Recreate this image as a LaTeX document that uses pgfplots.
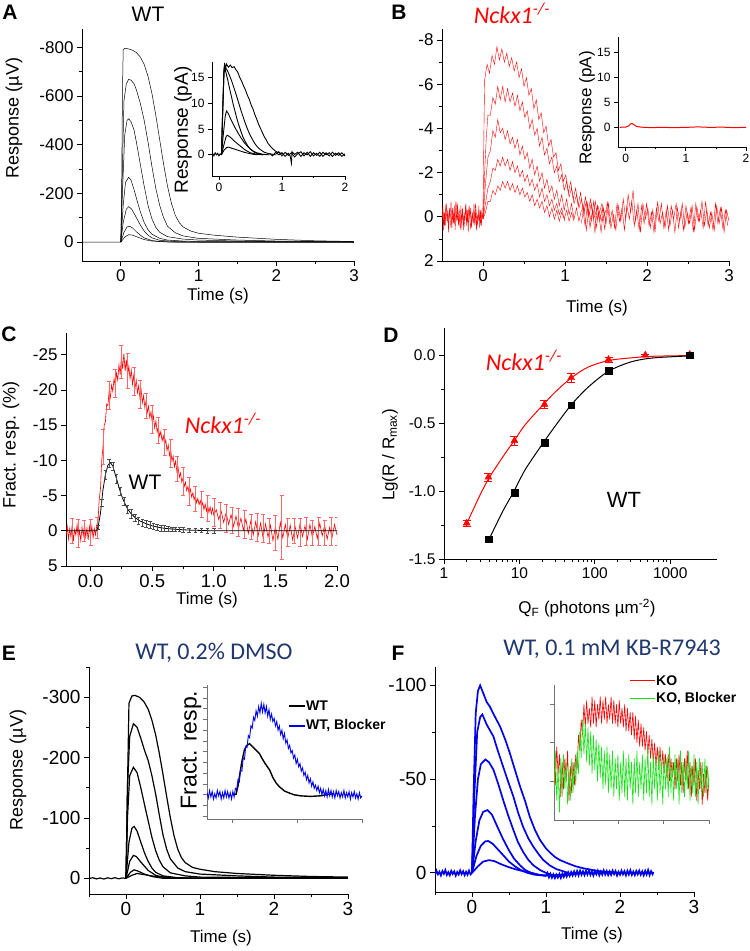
\documentclass[border=0pt]{standalone}
\usepackage{pgfplots}
\pgfplotsset{compat=1.18}
\usepackage{fontspec}
\setmainfont{Liberation Sans}
\newfontfamily\calfont{Carlito}
\definecolor{navy}{RGB}{32,56,110}
\definecolor{kored}{RGB}{255,0,0}
\definecolor{kogreen}{RGB}{20,230,20}
\definecolor{wtblue}{RGB}{0,0,235}
\newcommand{\fs}[1]{\fontsize{#1}{#1}\selectfont}
\pgfplotsset{
 pan/.style={scale only axis, anchor=south west, axis x line=bottom, axis y line=left,
   axis line style={line width=0.8pt,-}, tick align=outside,
   tick style={line width=0.8pt, black}, major tick length=5pt, minor tick length=3pt,
   /pgf/number format/assume math mode=true, tick label style={font=\fs{17}}},
 ins/.style={pan, tick label style={font=\fs{12}}, major tick length=4pt, minor tick length=2.5pt},
}
\begin{document}
\begin{tikzpicture}
\useasboundingbox (0pt,0pt) rectangle (750pt,951pt);
% ================= A =================
\begin{axis}[pan, at={(82pt,690pt)}, width=272pt, height=232pt, xmin=-0.5, xmax=3, ymin=-875, ymax=78, y dir=reverse,
  xtick={0,1,2,3}, minor xtick={0.5,1.5,2.5}, ytick={-800,-600,-400,-200,0}, minor ytick={-700,-500,-300,-100}]
\addplot[black, line width=0.5pt] coordinates {(-0.5,0)(0,0)(0.01,-200)(0.02,-600)(0.03,-790)(0.05,-796)(0.1,-793)(0.15,-788)(0.2,-778)(0.25,-760)(0.3,-730)(0.35,-680)(0.4,-610)(0.45,-520)(0.5,-420)(0.55,-320)(0.6,-230)(0.65,-160)(0.7,-110)(0.75,-80)(0.8,-62)(0.9,-45)(1.0,-36)(1.2,-28)(1.5,-20)(2.0,-11)(2.5,-5)(3.0,-2)};
\addplot[black, line width=0.5pt] coordinates {(0,0)(0.02,-300)(0.04,-580)(0.07,-650)(0.1,-668)(0.13,-665)(0.17,-650)(0.2,-625)(0.25,-570)(0.3,-500)(0.35,-410)(0.4,-310)(0.45,-220)(0.5,-150)(0.55,-100)(0.6,-65)(0.7,-38)(0.8,-25)(1.0,-15)(1.5,-8)(2,-4)(3,-1)};
\addplot[black, line width=0.5pt] coordinates {(0,0)(0.02,-200)(0.05,-440)(0.08,-500)(0.1,-506)(0.13,-495)(0.17,-460)(0.2,-410)(0.25,-320)(0.3,-230)(0.35,-150)(0.4,-95)(0.45,-60)(0.5,-40)(0.6,-22)(0.8,-12)(1.0,-8)(1.5,-4)(2,-2)(3,0)};
\addplot[black, line width=0.5pt] coordinates {(0,0)(0.03,-150)(0.06,-245)(0.1,-266)(0.13,-255)(0.17,-215)(0.2,-180)(0.25,-125)(0.3,-80)(0.35,-50)(0.4,-32)(0.5,-15)(0.6,-8)(0.8,-4)(1,-2)(3,0)};
\addplot[black, line width=0.5pt] coordinates {(0,0)(0.03,-80)(0.07,-135)(0.1,-145)(0.14,-135)(0.2,-100)(0.25,-70)(0.3,-45)(0.35,-28)(0.4,-17)(0.5,-7)(0.7,-2)(1,0)(3,0)};
\addplot[black, line width=0.5pt] coordinates {(0,0)(0.04,-40)(0.08,-62)(0.11,-65)(0.15,-58)(0.2,-42)(0.25,-28)(0.3,-17)(0.4,-6)(0.5,-2)(0.7,0)(3,0)};
\addplot[black, line width=0.5pt] coordinates {(0,0)(0.05,-20)(0.1,-30)(0.14,-29)(0.2,-22)(0.3,-10)(0.4,-4)(0.6,0)(3,0)};
\end{axis}
% A inset
\begin{axis}[ins, at={(212pt,775pt)}, width=133pt, height=114pt, xmin=-0.11, xmax=2, ymin=-4.1, ymax=18,
  xtick={0,1,2}, minor xtick={0.5,1.5}, ytick={0,5,10,15}]
\addplot[black, line width=0.9pt] coordinates {(-0.1,0.3)(-0.08,-0.2)(-0.06,0.4)(-0.04,0)(-0.02,0.3)(0,-0.2)(0.02,0.2)(0.04,0)};
\addplot[black, line width=0.9pt] coordinates {(0.04,0)(0.06,8)(0.08,16)(0.09,17.8)(0.1,16.5)(0.12,17.6)(0.15,17.0)(0.18,17.4)(0.21,16.9)(0.24,17.1)(0.27,16.5)(0.3,16.0)(0.33,15.0)(0.36,14.3)(0.39,13.4)(0.42,12.6)(0.45,11.6)(0.48,10.8)(0.51,9.7)(0.54,8.9)(0.57,7.8)(0.6,6.9)(0.63,5.9)(0.66,5.1)(0.69,4.3)(0.72,3.5)(0.75,2.9)(0.78,2.2)(0.82,1.6)(0.86,1.1)(0.9,0.7)(0.95,0.4)(1.0,0.3)};
\addplot[black, line width=0.9pt] coordinates {(0.04,0)(0.06,9)(0.08,16.5)(0.09,17.5)(0.11,16.8)(0.14,16.2)(0.17,15.3)(0.2,14.4)(0.23,13.3)(0.26,12.2)(0.29,11.0)(0.32,9.8)(0.35,8.6)(0.38,7.5)(0.41,6.4)(0.44,5.4)(0.47,4.5)(0.5,3.7)(0.54,2.8)(0.58,2.0)(0.62,1.4)(0.67,0.9)(0.72,0.5)(0.8,0.2)(0.9,0)};
\addplot[black, line width=0.9pt] coordinates {(0.04,0)(0.06,9)(0.08,16)(0.09,17.2)(0.11,16.0)(0.14,14.5)(0.17,12.8)(0.2,11.2)(0.23,9.6)(0.26,8.2)(0.29,6.8)(0.32,5.6)(0.35,4.5)(0.38,3.5)(0.42,2.5)(0.46,1.7)(0.5,1.1)(0.55,0.6)(0.6,0.3)(0.7,0)};
\addplot[black, line width=0.9pt] coordinates {(0.04,0)(0.07,4)(0.1,7.5)(0.12,8.5)(0.14,8.2)(0.17,7.4)(0.2,6.6)(0.25,5.4)(0.3,4.3)(0.35,3.3)(0.4,2.4)(0.45,1.7)(0.5,1.1)(0.55,0.7)(0.6,0.4)(0.7,0.1)(0.8,0)};
\addplot[black, line width=0.9pt] coordinates {(0.04,0)(0.08,2)(0.11,3.4)(0.13,3.8)(0.16,3.6)(0.2,3.2)(0.25,2.6)(0.3,2.1)(0.35,1.6)(0.4,1.1)(0.45,0.7)(0.5,0.4)(0.6,0.1)(0.7,0)};
\addplot[black, line width=0.9pt] coordinates {(0.04,0)(0.08,0.9)(0.12,1.4)(0.15,1.5)(0.2,1.3)(0.3,0.9)(0.4,0.5)(0.5,0.2)(0.6,0)};
\addplot[black, line width=0.9pt] coordinates {(0.8,0.3)(0.85,-0.2)(0.9,0.5)(0.95,0.0)(1.0,0.4)(1.05,-0.3)(1.1,0.3)(1.13,-0.2)(1.15,-1.6)(1.16,0.6)(1.2,0.1)(1.25,0.5)(1.3,-0.3)(1.35,0.4)(1.4,0.0)(1.45,0.6)(1.5,-0.2)(1.55,0.3)(1.6,-0.3)(1.65,0.5)(1.7,0.0)(1.75,0.4)(1.8,-0.3)(1.85,0.3)(1.9,-0.1)(1.95,0.4)(2.0,-0.2)};
\addplot[black, line width=0.9pt] coordinates {(0.9,0.1)(0.95,0.6)(1.0,-0.2)(1.05,0.5)(1.1,-0.1)(1.15,0.4)(1.2,-0.4)(1.25,0.2)(1.3,0.6)(1.35,-0.2)(1.4,0.5)(1.45,-0.3)(1.5,0.4)(1.55,-0.1)(1.6,0.5)(1.65,-0.3)(1.7,0.4)(1.75,-0.2)(1.8,0.5)(1.85,-0.1)(1.9,0.4)(1.95,-0.3)(2.0,0.2)};
\end{axis}
% ================= B =================
\begin{axis}[pan, at={(442pt,690pt)}, width=287pt, height=232pt, xmin=-0.5, xmax=3, ymin=-8.5, ymax=2, y dir=reverse,
  xtick={0,1,2,3}, minor xtick={0.5,1.5,2.5}, ytick={-8,-6,-4,-2,0,2}, minor ytick={-7,-5,-3,-1,1}]
\addplot[kored, line width=0.4pt] coordinates {(-0.50,0.3)(-0.49,-0.5)(-0.48,0.6)(-0.47,-0.2)(-0.46,0.4)(-0.45,-0.6)(-0.44,0.2)(-0.43,-0.3)(-0.42,0.7)(-0.41,-0.4)(-0.40,0.1)(-0.39,-0.7)(-0.38,0.5)(-0.37,-0.2)(-0.36,0.3)(-0.35,-0.5)(-0.34,0.6)(-0.33,-0.3)(-0.32,0.2)(-0.31,-0.6)(-0.30,0.4)(-0.29,-0.1)(-0.28,0.5)(-0.27,-0.5)(-0.26,0.3)(-0.25,-0.4)(-0.24,0.6)(-0.23,-0.2)(-0.22,0.2)(-0.21,-0.6)(-0.20,0.4)(-0.19,-0.3)(-0.18,0.7)(-0.17,-0.5)(-0.16,0.1)(-0.15,-0.4)(-0.14,0.5)(-0.13,-0.2)(-0.12,0.3)(-0.11,-0.6)(-0.10,0.4)(-0.09,-0.3)(-0.08,0.6)(-0.07,-0.1)(-0.06,0.2)(-0.05,-0.5)(-0.04,0.5)(-0.03,-0.3)(-0.02,0.4)(-0.01,-0.2)(0.00,0.1)};
\addplot[kored, line width=0.4pt] coordinates {(-0.49,-0.3)(-0.47,0.4)(-0.45,-0.6)(-0.43,0.2)(-0.41,-0.2)(-0.39,0.5)(-0.37,-0.4)(-0.35,0.3)(-0.33,-0.7)(-0.31,0.1)(-0.29,-0.3)(-0.27,0.6)(-0.25,-0.2)(-0.23,0.4)(-0.21,-0.5)(-0.19,0.2)(-0.17,-0.4)(-0.15,0.5)(-0.13,-0.1)(-0.11,0.3)(-0.09,-0.6)(-0.07,0.4)(-0.05,-0.2)(-0.03,0.3)(-0.01,-0.4)};
\addplot[kored, line width=0.4pt] coordinates {(0,0)(0.01,-3.5)(0.02,-6.2)(0.05,-6.9)(0.08,-6.5)(0.11,-7.3)(0.14,-6.9)(0.17,-7.7)(0.20,-7.1)(0.23,-7.6)(0.26,-7.0)(0.29,-7.4)(0.32,-6.8)(0.35,-7.2)(0.38,-6.6)(0.41,-7.0)(0.44,-6.3)(0.47,-6.7)(0.50,-5.9)(0.53,-6.3)(0.56,-5.5)(0.59,-5.8)(0.62,-4.9)(0.65,-5.3)(0.68,-4.4)(0.71,-4.7)(0.74,-3.8)(0.77,-4.1)(0.80,-3.2)(0.83,-3.5)(0.86,-2.7)(0.89,-2.9)(0.92,-2.1)(0.95,-2.4)(0.98,-1.6)(1.01,-1.9)(1.04,-1.1)(1.07,-1.6)(1.10,-0.8)(1.13,-1.3)(1.16,-0.5)(1.19,-1.1)(1.22,-0.3)(1.25,-0.9)(1.28,-0.1)(1.31,-0.8)(1.34,0.0)(1.37,-0.7)(1.40,0.1)(1.45,-0.6)(1.50,0.2)};
\addplot[kored, line width=0.4pt] coordinates {(0,0.1)(0.02,-2.0)(0.04,-3.6)(0.06,-4.6)(0.09,-4.6)(0.12,-5.4)(0.15,-5.1)(0.18,-5.9)(0.21,-5.3)(0.24,-5.9)(0.27,-5.2)(0.30,-5.8)(0.33,-5.2)(0.36,-5.6)(0.39,-5.0)(0.42,-5.5)(0.45,-4.8)(0.48,-5.2)(0.51,-4.5)(0.54,-4.8)(0.57,-4.0)(0.60,-4.4)(0.63,-3.7)(0.66,-4.0)(0.69,-3.2)(0.72,-3.6)(0.75,-2.8)(0.78,-3.1)(0.81,-2.4)(0.84,-2.7)(0.87,-2.0)(0.90,-2.3)(0.93,-1.6)(0.96,-1.9)(0.99,-1.2)(1.02,-1.6)(1.05,-0.9)(1.08,-1.3)(1.11,-0.6)(1.14,-1.0)(1.17,-0.4)(1.20,-0.8)(1.23,-0.2)(1.26,-0.7)(1.29,0.0)(1.32,-0.6)(1.35,0.1)(1.40,-0.5)(1.45,0.2)(1.50,-0.3)};
\addplot[kored, line width=0.4pt] coordinates {(0,0.1)(0.03,-1.5)(0.06,-2.7)(0.09,-3.0)(0.12,-3.9)(0.15,-3.6)(0.18,-4.4)(0.21,-3.8)(0.24,-4.0)(0.27,-3.5)(0.30,-3.9)(0.33,-3.3)(0.36,-3.6)(0.39,-3.1)(0.42,-3.5)(0.45,-2.8)(0.48,-3.2)(0.51,-2.6)(0.54,-2.9)(0.57,-2.2)(0.60,-2.6)(0.63,-1.9)(0.66,-2.3)(0.69,-1.6)(0.72,-2.0)(0.75,-1.3)(0.78,-1.7)(0.81,-1.1)(0.84,-1.4)(0.87,-0.8)(0.90,-1.2)(0.93,-0.5)(0.96,-1.0)(0.99,-0.3)(1.02,-0.8)(1.05,-0.1)(1.08,-0.6)(1.11,0.1)(1.14,-0.4)(1.17,0.2)(1.20,-0.3)};
\addplot[kored, line width=0.4pt] coordinates {(0,0.1)(0.03,-0.6)(0.06,-1.3)(0.09,-1.6)(0.12,-2.2)(0.15,-2.1)(0.18,-2.6)(0.21,-2.3)(0.24,-2.7)(0.27,-2.3)(0.30,-2.6)(0.33,-2.1)(0.36,-2.5)(0.39,-2.0)(0.42,-2.3)(0.45,-1.8)(0.48,-2.1)(0.51,-1.6)(0.54,-1.9)(0.57,-1.4)(0.60,-1.7)(0.63,-1.2)(0.66,-1.5)(0.69,-0.9)(0.72,-1.3)(0.75,-0.7)(0.78,-1.0)(0.81,-0.5)(0.84,-0.8)(0.87,-0.3)(0.90,-0.6)(0.93,-0.1)(0.96,-0.4)(0.99,0.1)(1.02,-0.3)(1.05,0.2)(1.08,-0.2)(1.11,0.2)};
\addplot[kored, line width=0.4pt] coordinates {(0,0.1)(0.03,-0.2)(0.06,-0.7)(0.09,-0.7)(0.12,-1.2)(0.15,-1.0)(0.18,-1.4)(0.21,-1.2)(0.24,-1.6)(0.27,-1.3)(0.30,-1.6)(0.33,-1.2)(0.36,-1.5)(0.39,-1.1)(0.42,-1.4)(0.45,-1.0)(0.48,-1.3)(0.51,-0.9)(0.54,-1.1)(0.57,-0.7)(0.60,-1.0)(0.63,-0.5)(0.66,-0.8)(0.69,-0.4)(0.72,-0.7)(0.75,-0.2)(0.78,-0.5)(0.81,0.0)(0.84,-0.4)(0.87,0.1)(0.90,-0.3)(0.93,0.2)(0.96,-0.2)(1.00,0.2)};
\addplot[kored, line width=0.4pt] coordinates {(1.20,0.3)(1.23,-0.5)(1.26,0.6)(1.29,-0.3)(1.32,0.2)(1.35,-0.7)(1.38,0.5)(1.41,-0.2)(1.44,0.7)(1.47,-0.4)(1.50,0.3)(1.53,-0.6)(1.56,0.5)(1.59,-0.1)(1.62,0.6)(1.65,-0.5)(1.68,0.2)(1.71,-0.8)(1.74,0.1)(1.77,-1.0)(1.80,-0.2)(1.83,-1.2)(1.86,0.2)(1.89,-0.6)(1.92,0.7)(1.95,-0.6)(1.98,0.1)(2.01,-0.4)(2.04,0.5)(2.07,-0.3)(2.10,0.6)(2.13,-0.7)(2.16,0.3)(2.19,-0.2)(2.22,0.5)(2.25,-0.5)(2.28,0.4)(2.31,-0.3)(2.34,0.7)(2.37,-0.4)(2.40,0.2)(2.43,-0.6)(2.46,0.5)(2.49,-0.2)(2.52,0.3)(2.55,-0.5)(2.58,0.6)(2.61,-0.4)(2.64,0.2)(2.67,-0.7)(2.70,0.4)(2.73,-0.3)(2.76,0.5)(2.79,-0.2)(2.82,0.6)(2.85,-0.5)(2.88,0.3)(2.91,-0.4)(2.94,0.7)(2.97,-0.3)(3.00,0.2)};
\addplot[kored, line width=0.4pt] coordinates {(1.215,-0.4)(1.245,0.4)(1.275,-0.6)(1.305,0.5)(1.335,-0.3)(1.365,0.7)(1.395,-0.5)(1.425,0.2)(1.455,-0.4)(1.485,0.6)(1.515,-0.7)(1.545,0.3)(1.575,-0.3)(1.605,0.5)(1.635,-0.6)(1.665,0.2)(1.695,-0.4)(1.725,0.6)(1.755,-0.5)(1.785,0.1)(1.815,-0.7)(1.845,0.4)(1.875,-0.3)(1.905,0.6)(1.935,-0.5)(1.965,0.3)(1.995,-0.6)(2.025,0.4)(2.055,-0.2)(2.085,0.7)(2.115,-0.4)(2.145,0.2)(2.175,-0.6)(2.205,0.5)(2.235,-0.3)(2.265,0.6)(2.295,-0.5)(2.325,0.1)(2.355,-0.6)(2.385,0.5)(2.415,-0.3)(2.445,0.6)(2.475,-0.5)(2.505,0.3)(2.535,-0.4)(2.565,0.7)(2.595,-0.6)(2.625,0.2)(2.655,-0.3)(2.685,0.5)(2.715,-0.7)(2.745,0.4)(2.775,-0.2)(2.805,0.6)(2.835,-0.6)(2.865,0.3)(2.895,-0.4)(2.925,0.5)(2.955,-0.3)(2.985,0.4)};
\end{axis}
% B inset
\begin{axis}[ins, at={(618pt,804pt)}, width=128pt, height=110pt, xmin=-0.128, xmax=2, ymin=-3.95, ymax=18.2,
  xtick={0,1,2}, minor xtick={0.5,1.5}, ytick={0,5,10,15}]
\addplot[kored, line width=1pt] coordinates {(-0.1,0)(-0.05,0.05)(0.0,0.05)(0.05,0.3)(0.08,0.7)(0.11,0.75)(0.14,0.5)(0.18,0.2)(0.25,0.05)(0.4,-0.05)(0.6,0)(0.8,-0.05)(1.0,0)(1.2,0.1)(1.4,0)(1.6,0.05)(1.8,-0.05)(2.0,0)};
\end{axis}
% ================= C =================
\begin{axis}[pan, at={(66pt,385pt)}, width=271pt, height=233pt, xmin=-0.2, xmax=2, ymin=-28.1, ymax=5, y dir=reverse,
  xtick={0,0.5,1,1.5,2}, minor xtick={0.25,0.75,1.25,1.75}, ytick={-25,-20,-15,-10,-5,0,5},
  xticklabel style={font=\fs{18.5}, /pgf/number format/.cd, fixed, fixed zerofill, precision=1}]
\addplot[kored, line width=0.6pt] coordinates {(-0.20,0.8)(-0.19,-0.6)(-0.18,1.2)(-0.17,-0.3)(-0.16,0.9)(-0.15,-0.8)(-0.14,1.5)(-0.13,-0.2)(-0.12,0.6)(-0.11,-0.9)(-0.10,1.1)(-0.09,0.0)(-0.08,1.4)(-0.07,-0.5)(-0.06,0.7)(-0.05,-1.0)(-0.04,0.9)(-0.03,-0.4)(-0.02,1.3)(-0.01,-0.6)(0.00,0.8)(0.01,-0.7)(0.02,1.0)(0.03,-0.3)(0.04,0.6)(0.05,-0.8)(0.06,-1.5)(0.07,-4.5)(0.08,-6.0)(0.09,-10.0)(0.10,-11.8)(0.11,-15.0)(0.12,-15.5)(0.13,-18.0)(0.14,-17.8)(0.15,-19.8)(0.16,-18.9)(0.17,-20.7)(0.18,-19.8)(0.19,-21.6)(0.20,-20.6)(0.21,-22.4)(0.22,-21.4)(0.23,-23.6)(0.24,-22.2)(0.25,-24.8)(0.26,-23.0)(0.27,-25.2)(0.28,-22.7)(0.29,-24.3)(0.30,-22.0)(0.31,-23.4)(0.32,-21.6)(0.33,-22.8)(0.34,-20.8)(0.35,-22.1)(0.36,-20.2)(0.37,-21.4)(0.38,-19.6)(0.39,-20.6)(0.40,-18.9)(0.41,-20.0)(0.42,-18.2)(0.43,-19.2)(0.44,-17.5)(0.45,-18.5)(0.46,-16.8)(0.47,-17.7)(0.48,-16.1)(0.49,-16.9)(0.50,-15.4)(0.51,-16.3)(0.52,-14.6)(0.53,-15.6)(0.54,-14.0)(0.55,-14.8)(0.56,-13.4)(0.57,-14.1)(0.58,-12.8)(0.59,-13.5)(0.60,-12.2)(0.61,-12.9)(0.62,-11.4)(0.63,-12.2)(0.64,-10.7)(0.65,-11.5)(0.66,-9.9)(0.67,-10.6)(0.68,-9.1)(0.69,-9.9)(0.70,-8.4)(0.71,-9.0)(0.72,-7.6)(0.73,-8.2)(0.74,-6.9)(0.75,-7.5)(0.76,-6.3)(0.77,-6.9)(0.78,-5.7)(0.79,-6.3)(0.80,-5.2)(0.81,-5.9)(0.82,-4.8)(0.83,-5.4)(0.84,-4.4)(0.85,-5.0)(0.86,-4.0)(0.87,-4.6)(0.88,-3.7)(0.89,-4.3)(0.90,-3.4)(0.91,-4.0)(0.92,-3.0)(0.93,-3.8)(0.94,-2.8)(0.95,-3.6)(0.96,-2.6)(0.97,-3.4)(0.98,-2.4)(0.99,-3.2)(1.00,-2.2)(1.02,-3.0)(1.04,-1.6)(1.06,-2.8)(1.08,-1.2)(1.10,-2.6)(1.12,-0.9)(1.14,-2.3)(1.16,-0.6)(1.18,-2.1)(1.20,-0.3)(1.22,-1.8)(1.24,-0.1)(1.26,-1.7)(1.28,0.4)(1.30,-1.4)(1.32,0.6)(1.34,-1.3)(1.36,0.7)(1.38,-1.1)(1.40,1.0)(1.42,-1.0)(1.44,0.9)(1.46,-0.8)(1.48,1.4)(1.50,-0.6)(1.52,1.2)(1.54,-1.2)(1.56,1.0)(1.58,-0.9)(1.60,1.1)(1.62,-0.8)(1.64,1.3)(1.66,-0.6)(1.68,1.0)(1.70,-1.0)(1.72,0.8)(1.74,-0.7)(1.76,1.2)(1.78,-0.9)(1.80,0.9)(1.82,-0.6)(1.84,1.1)(1.86,-1.1)(1.88,0.7)(1.90,-0.8)(1.92,1.2)(1.94,-0.5)(1.96,0.9)(1.98,-0.9)(2.00,0.6)};
\addplot[draw=none, mark=none, error bars/.cd, y dir=both, y explicit, error bar style={draw=kored!60, line width=0.5pt}, error mark options={rotate=90, draw=kored!60, mark size=2pt}] coordinates {
(-0.15,0) +- (0,1.8) (-0.10,0.3) +- (0,2.0) (-0.05,0) +- (0,1.5) (0.00,0.2) +- (0,1.8) (0.05,-0.5) +- (0,1.5) (0.10,-12) +- (0,2.5) (0.15,-19.3) +- (0,2.0) (0.20,-21) +- (0,2.0) (0.25,-24) +- (0,2.3) (0.30,-22.8) +- (0,2.5) (0.35,-21.3) +- (0,2.0) (0.40,-19.4) +- (0,2.0) (0.45,-17.8) +- (0,1.8) (0.50,-15.8) +- (0,2.0) (0.55,-14.3) +- (0,1.8) (0.60,-12.6) +- (0,1.8) (0.65,-11.0) +- (0,2.0) (0.70,-8.8) +- (0,1.8) (0.75,-7.0) +- (0,2.0) (0.80,-5.6) +- (0,2.0) (0.85,-4.6) +- (0,1.8) (0.90,-3.8) +- (0,1.8) (0.95,-3.2) +- (0,1.8) (1.00,-2.7) +- (0,2.0) (1.05,-2.2) +- (0,1.8) (1.10,-1.8) +- (0,2.0) (1.15,-1.5) +- (0,1.8) (1.20,-1.2) +- (0,2.0) (1.25,-0.9) +- (0,2.0) (1.30,-0.6) +- (0,1.8) (1.35,-0.5) +- (0,2.0) (1.40,-0.4) +- (0,2.0) (1.45,0) +- (0,1.8) (1.50,0.3) +- (0,2.5) (1.55,-0.5) +- (0,4.5) (1.60,0.2) +- (0,2.0) (1.65,0) +- (0,1.8) (1.70,0.2) +- (0,2.0) (1.75,0) +- (0,2.0) (1.80,0.3) +- (0,1.8) (1.85,0) +- (0,2.0) (1.90,0.3) +- (0,1.8) (1.95,0) +- (0,2.0) (2.00,0) +- (0,2.0)};
\addplot[black, line width=0.8pt] coordinates {(-0.2,0)(0.05,0)(0.06,-0.5)(0.08,-2.5)(0.10,-5.8)(0.12,-8.0)(0.14,-9.3)(0.16,-9.7)(0.18,-9.2)(0.20,-8.0)(0.22,-6.8)(0.24,-5.6)(0.26,-4.6)(0.28,-3.8)(0.30,-3.1)(0.33,-2.4)(0.36,-1.9)(0.40,-1.4)(0.45,-1.0)(0.50,-0.7)(0.55,-0.5)(0.60,-0.35)(0.70,-0.2)(0.80,-0.1)(1.0,0)(2.0,0)};
\addplot[draw=none, mark=none, error bars/.cd, y dir=both, y explicit, error bar style={draw=black!70, line width=0.5pt}, error mark options={rotate=90, draw=black!70, mark size=1.8pt}] coordinates {
(0.06,-0.5) +- (0,0.3) (0.09,-4) +- (0,0.5) (0.12,-8) +- (0,0.6) (0.15,-9.6) +- (0,0.6) (0.18,-9.2) +- (0,0.6) (0.21,-7.4) +- (0,0.6) (0.24,-5.6) +- (0,0.6) (0.27,-4.2) +- (0,0.6) (0.30,-3.1) +- (0,0.6) (0.33,-2.4) +- (0,0.6) (0.36,-1.9) +- (0,0.5) (0.39,-1.5) +- (0,0.5) (0.42,-1.2) +- (0,0.5) (0.45,-1.0) +- (0,0.5) (0.48,-0.8) +- (0,0.5) (0.51,-0.65) +- (0,0.4) (0.54,-0.5) +- (0,0.4) (0.57,-0.4) +- (0,0.4) (0.60,-0.35) +- (0,0.4) (0.63,-0.3) +- (0,0.3) (0.66,-0.25) +- (0,0.3) (0.69,-0.2) +- (0,0.3) (0.72,-0.18) +- (0,0.3) (0.75,-0.15) +- (0,0.3) (0.8,-0.1) +- (0,0.3) (0.85,-0.1) +- (0,0.3) (0.9,-0.05) +- (0,0.3) (0.95,0) +- (0,0.3) (1.0,0) +- (0,0.3)};
\end{axis}
% ================= D =================
\begin{axis}[pan, at={(444pt,392pt)}, width=273pt, height=231pt, xmode=log, xmin=1, xmax=4170, ymin=-1.5, ymax=0.2,
  xtick={1,10,100,1000}, xticklabels={1,10,100,1000}, ytick={-1.5,-1,-0.5,0}, minor ytick={-1.25,-0.75,-0.25},
  tick label style={font=\fs{15.5}},
  yticklabel style={/pgf/number format/.cd, fixed, fixed zerofill, precision=1}]
\addplot[kored, line width=1pt, smooth] coordinates {(2,-1.24)(3,-1.03)(4,-0.9)(6,-0.75)(8.5,-0.63)(12,-0.51)(21,-0.36)(30,-0.27)(48,-0.17)(80,-0.09)(150,-0.04)(300,-0.02)(600,-0.008)(1900,-0.003)};
\addplot[black, line width=1pt, smooth] coordinates {(4,-1.35)(6,-1.15)(8.5,-1.0)(12,-0.84)(21,-0.64)(30,-0.52)(48,-0.37)(80,-0.24)(150,-0.12)(300,-0.05)(600,-0.02)(1900,-0.005)};
\addplot[kored, only marks, mark=triangle*, mark size=4pt, error bars/.cd, y dir=both, y explicit, error bar style={kored, line width=0.6pt}] coordinates {(2,-1.236) +- (0,0.02) (3.88,-0.898) +- (0,0.03) (8.6,-0.629) +- (0,0.03) (21.5,-0.362) +- (0,0.03) (48.6,-0.166) +- (0,0.03) (152,-0.032) +- (0,0.02) (467,0) +- (0,0.01) (1810,0.005) +- (0,0.01)};
\addplot[black, only marks, mark=square*, mark size=3.3pt] coordinates {(3.88,-1.353)(8.6,-1.011)(21.5,-0.644)(48.6,-0.367)(152,-0.115)(1810,0)};
\end{axis}
% ================= E =================
\begin{axis}[pan, at={(89pt,57pt)}, width=259pt, height=227pt, xmin=-0.5, xmax=3, ymin=-350, ymax=26, y dir=reverse,
  tick label style={font=\fs{19}},
  xtick={0,1,2,3}, minor xtick={-0.5,0.5,1.5,2.5}, ytick={-300,-200,-100,0}, minor ytick={-350,-250,-150,-50}]
\addplot[black, line width=1.2pt] coordinates {(-0.5,0.5)(-0.45,-1)(-0.4,1)(-0.35,-0.5)(-0.3,1.2)(-0.25,-0.8)(-0.2,0.6)(-0.15,-1)(-0.1,0.8)(-0.05,-0.6)(0,0)};
\addplot[black, line width=1.2pt] coordinates {(0,0)(0.02,-150)(0.04,-290)(0.08,-302)(0.12,-303)(0.18,-300)(0.24,-293)(0.3,-280)(0.35,-262)(0.4,-238)(0.45,-207)(0.5,-172)(0.55,-135)(0.6,-100)(0.65,-70)(0.7,-48)(0.75,-34)(0.8,-26)(0.9,-18)(1.0,-15)(1.2,-11)(1.5,-8)(2,-5)(2.5,-3)(3,-2)};
\addplot[black, line width=1.2pt] coordinates {(0,0)(0.02,-150)(0.05,-235)(0.1,-256)(0.15,-250)(0.2,-232)(0.25,-212)(0.3,-195)(0.35,-170)(0.4,-140)(0.45,-105)(0.5,-72)(0.55,-48)(0.6,-32)(0.7,-17)(0.8,-11)(1,-7)(1.5,-4)(2,-2)(3,-1)};
\addplot[black, line width=1.2pt] coordinates {(0,0)(0.02,-100)(0.05,-170)(0.1,-184)(0.15,-175)(0.2,-150)(0.25,-122)(0.3,-95)(0.35,-68)(0.4,-46)(0.45,-30)(0.5,-19)(0.6,-9)(0.8,-4)(1,-2)(3,0)};
\addplot[black, line width=1.2pt] coordinates {(0,0)(0.04,-60)(0.08,-83)(0.11,-86)(0.15,-78)(0.2,-60)(0.25,-42)(0.3,-28)(0.35,-17)(0.4,-10)(0.5,-4)(0.7,-1)(1,0)(3,0)};
\addplot[black, line width=1.2pt] coordinates {(0,0)(0.05,-28)(0.1,-38)(0.14,-36)(0.2,-27)(0.3,-13)(0.4,-5)(0.5,-2)(0.7,0)(3,0)};
\addplot[black, line width=1.2pt] coordinates {(0,0)(0.06,-10)(0.11,-14)(0.16,-12)(0.25,-7)(0.35,-3)(0.5,0)(3,0)};
\addplot[black, line width=1.2pt] coordinates {(0,0)(0.08,-5)(0.15,-8)(0.25,-6)(0.4,-3)(0.6,-1)(0.8,0)(3,0)};
\end{axis}
% E inset
\begin{axis}[ins, at={(207pt,132pt)}, width=155pt, height=134pt, xmin=-0.4, xmax=2, ymin=-2.25, ymax=10.2,
  xtick={0,1,2}, ytick={-2,-1,0,1,2,3,4,5,6,7,8,9,10}, xticklabels={}, yticklabels={},
  axis line style={black!55}, tick style={black!55}]
\addplot[black, line width=1.4pt] coordinates {(0,0)(0.05,0.05)(0.08,0.8)(0.11,2.0)(0.14,3.1)(0.18,4.2)(0.22,4.6)(0.26,4.75)(0.3,4.5)(0.35,4.2)(0.41,3.85)(0.45,3.4)(0.5,2.9)(0.57,2.3)(0.62,1.6)(0.67,1.1)(0.72,0.75)(0.8,0.35)(0.88,0.15)(0.95,0.0)(1.05,-0.1)(1.2,-0.15)(1.35,-0.1)(1.45,0)(1.55,0.1)};
\addplot[wtblue, line width=0.9pt] coordinates {(-0.40,0.2)(-0.38,-0.3)(-0.36,0.4)(-0.34,-0.2)(-0.32,0.3)(-0.30,-0.4)(-0.28,0.1)(-0.26,-0.3)(-0.24,0.4)(-0.22,-0.1)(-0.20,0.3)(-0.18,-0.4)(-0.16,0.2)(-0.14,-0.3)(-0.12,0.4)(-0.10,-0.2)(-0.08,0.3)(-0.06,-0.3)(-0.04,0.2)(-0.02,-0.4)(0.00,0.3)(0.02,-0.2)(0.04,0.6)(0.06,0.5)(0.08,1.4)(0.10,1.2)(0.12,2.3)(0.14,2.2)(0.16,3.4)(0.18,3.3)(0.20,4.5)(0.22,4.4)(0.24,5.5)(0.26,5.3)(0.28,6.4)(0.30,6.2)(0.32,7.2)(0.34,6.9)(0.36,7.8)(0.38,7.3)(0.40,8.2)(0.42,7.6)(0.44,8.5)(0.46,7.7)(0.48,8.4)(0.50,7.6)(0.52,8.2)(0.54,7.3)(0.56,7.9)(0.58,7.0)(0.60,7.5)(0.62,6.8)(0.64,7.1)(0.66,6.4)(0.68,6.8)(0.70,6.0)(0.72,6.4)(0.74,5.6)(0.76,6.0)(0.78,5.2)(0.80,5.7)(0.82,4.8)(0.84,5.1)(0.86,4.3)(0.88,4.6)(0.90,3.9)(0.92,4.1)(0.94,3.4)(0.96,3.7)(0.98,2.9)(1.00,3.3)(1.02,2.6)(1.04,2.9)(1.06,2.2)(1.08,2.5)(1.10,1.8)(1.12,2.1)(1.14,1.4)(1.16,1.8)(1.18,1.1)(1.20,1.5)(1.22,0.8)(1.24,1.2)(1.26,0.6)(1.28,0.9)(1.30,0.4)(1.32,0.8)(1.34,0.2)(1.36,0.6)(1.38,0.0)(1.40,0.5)(1.42,-0.1)(1.44,0.4)(1.46,-0.2)(1.48,0.5)(1.50,-0.1)(1.52,0.4)(1.54,-0.2)(1.56,0.3)(1.58,-0.3)(1.60,0.4)(1.62,-0.1)(1.64,0.3)(1.66,-0.3)(1.68,0.2)(1.70,-0.2)(1.72,0.4)(1.74,-0.3)(1.76,0.2)(1.78,-0.2)(1.80,0.3)(1.82,-0.4)(1.84,0.2)(1.86,-0.2)(1.88,0.3)(1.90,-0.3)(1.92,0.1)(1.94,-0.4)(1.96,0.2)(1.98,-0.3)(2.00,-0.1)};
\end{axis}
% ================= F =================
\begin{axis}[pan, at={(435pt,59pt)}, width=259pt, height=225pt, xmin=-0.5, xmax=3, ymin=-109.8, ymax=10.2, y dir=reverse,
  tick label style={font=\fs{19}},
  xtick={0,1,2,3}, minor xtick={-0.5,0.5,1.5,2.5}, ytick={-100,-50,0}, minor ytick={-75,-25}]
\addplot[wtblue, line width=1.7pt] coordinates {(-0.50,1.0)(-0.48,-1.2)(-0.46,0.8)(-0.44,-0.6)(-0.42,1.4)(-0.40,-1.0)(-0.38,0.5)(-0.36,-1.5)(-0.34,1.1)(-0.32,-0.4)(-0.30,1.3)(-0.28,-1.1)(-0.26,0.6)(-0.24,-0.8)(-0.22,1.5)(-0.20,-0.5)(-0.18,0.9)(-0.16,-1.3)(-0.14,0.7)(-0.12,-0.9)(-0.10,1.2)(-0.08,-0.6)(-0.06,1.0)(-0.04,-1.2)(-0.02,0.8)(0.00,0)};
\addplot[wtblue, line width=1.7pt] coordinates {(0,0)(0.02,-40)(0.05,-85)(0.08,-97)(0.11,-100)(0.15,-96)(0.2,-91)(0.24,-88.8)(0.3,-84)(0.38,-78)(0.45,-71)(0.51,-64)(0.58,-55)(0.65,-46)(0.72,-38)(0.78,-30)(0.85,-23)(0.92,-17.5)(1.0,-13)(1.05,-11)(1.12,-8.5)(1.19,-6.8)(1.3,-5)(1.4,-3.5)(1.5,-2.5)(1.7,-1)(2.0,0)(2.45,0)};
\addplot[wtblue, line width=1.7pt] coordinates {(0,0)(0.03,-40)(0.07,-75)(0.11,-83)(0.14,-84.5)(0.2,-79)(0.29,-72.7)(0.35,-65)(0.42,-56.7)(0.49,-48.5)(0.56,-40.6)(0.62,-32.5)(0.69,-24.6)(0.76,-18.5)(0.83,-13.9)(0.9,-10)(0.96,-7)(1.05,-4)(1.14,-2)(1.3,0)};
\addplot[wtblue, line width=1.7pt] coordinates {(0,0)(0.04,-30)(0.08,-50)(0.12,-58)(0.18,-60.5)(0.23,-59)(0.29,-55)(0.35,-48)(0.42,-39)(0.49,-30.5)(0.56,-22.8)(0.62,-16.5)(0.69,-11.2)(0.76,-7)(0.83,-4)(0.92,-1.5)(1.0,0)(1.1,1.5)(1.3,1)(1.5,0)};
\addplot[wtblue, line width=1.7pt] coordinates {(0,0)(0.05,-17)(0.1,-28)(0.15,-32.5)(0.21,-33.5)(0.27,-31)(0.35,-24)(0.42,-18)(0.5,-12)(0.57,-7.5)(0.65,-4)(0.72,-1.5)(0.8,0)(0.9,1)(1.0,1.5)(1.2,1)(1.4,0)};
\addplot[wtblue, line width=1.7pt] coordinates {(0,0)(0.06,-9)(0.12,-14.5)(0.18,-16.8)(0.22,-17)(0.28,-15.5)(0.35,-12.5)(0.42,-9.5)(0.5,-6)(0.58,-3.5)(0.66,-1.5)(0.75,0)(0.85,1)(1.0,1.5)};
\addplot[wtblue, line width=1.7pt] coordinates {(0,0)(0.08,-3.5)(0.15,-6)(0.23,-6.8)(0.3,-6.3)(0.4,-4.5)(0.5,-3)(0.6,-1.8)(0.7,-0.8)(0.8,0)(0.9,1)(1.0,1.5)};
\addplot[wtblue, line width=1.7pt] coordinates {(1.00,1.5)(1.02,0.0)(1.04,2.4)(1.06,0.5)(1.08,2.6)(1.10,0.8)(1.12,2.8)(1.14,0.9)(1.16,2.5)(1.18,0.6)(1.20,2.7)(1.22,0.4)(1.24,2.2)(1.26,0.2)(1.28,2.0)(1.30,-0.3)(1.32,1.6)(1.34,-0.5)(1.36,1.4)(1.38,-0.8)(1.40,1.2)(1.42,-1.0)(1.44,1.3)(1.46,-1.2)(1.48,1.0)(1.50,-0.9)(1.52,1.2)(1.54,-1.1)(1.56,0.9)(1.58,-1.3)(1.60,1.1)(1.62,-0.8)(1.64,1.4)(1.66,-1.0)(1.68,0.8)(1.70,-1.2)(1.72,1.3)(1.74,-0.7)(1.76,1.0)(1.78,-1.3)(1.80,0.9)(1.82,-1.0)(1.84,1.2)(1.86,-0.8)(1.88,1.1)(1.90,-1.2)(1.92,0.7)(1.94,-1.0)(1.96,1.4)(1.98,-0.6)(2.00,1.0)(2.02,-1.2)(2.04,0.8)(2.06,-0.9)(2.08,1.3)(2.10,-1.1)(2.12,0.9)(2.14,-1.4)(2.16,1.1)(2.18,-0.7)(2.20,1.2)(2.22,-1.0)(2.24,0.8)(2.26,-1.2)(2.28,1.0)(2.30,-0.8)(2.32,1.3)(2.34,-1.1)(2.36,0.9)(2.38,-1.5)(2.40,1.2)(2.42,-0.9)(2.44,0.7)(2.45,-0.5)};
\end{axis}
% F inset
\begin{axis}[ins, at={(554pt,131pt)}, width=155pt, height=135pt, xmin=-0.21, xmax=1.5, ymin=-1, ymax=2.5,
  xtick={0,0.5,1,1.5}, ytick={0,1,2}, xticklabels={}, yticklabels={},
  axis line style={black!55}, tick style={black!55}]
\addplot[kored, line width=0.6pt] coordinates {(-0.21,0.6)(-0.195,-0.1)(-0.18,0.9)(-0.165,0.2)(-0.15,0.7)(-0.135,-0.4)(-0.12,0.5)(-0.105,-0.2)(-0.09,0.6)(-0.075,0.0)(-0.06,0.8)(-0.045,-0.5)(-0.03,0.4)(-0.015,-0.3)(0.0,0.5)(0.015,-0.1)(0.03,0.7)(0.045,0.3)(0.06,1.2)(0.075,0.8)(0.09,1.6)(0.105,1.2)(0.12,2.0)(0.135,1.4)(0.15,2.1)(0.165,1.5)(0.18,1.9)(0.195,1.4)(0.21,2.2)(0.225,1.5)(0.24,2.1)(0.255,1.4)(0.27,2.0)(0.285,1.6)(0.3,2.2)(0.315,1.5)(0.33,2.1)(0.345,1.6)(0.36,2.2)(0.375,1.5)(0.39,2.0)(0.405,1.6)(0.42,2.2)(0.435,1.5)(0.45,2.1)(0.465,1.5)(0.48,2.0)(0.495,1.4)(0.51,2.1)(0.525,1.5)(0.54,1.9)(0.555,1.4)(0.57,2.0)(0.585,1.3)(0.6,1.9)(0.615,1.3)(0.63,1.8)(0.645,1.2)(0.66,1.8)(0.675,1.1)(0.69,1.7)(0.705,1.0)(0.72,1.6)(0.735,0.9)(0.75,1.5)(0.765,0.9)(0.78,1.4)(0.795,0.8)(0.81,1.3)(0.825,0.7)(0.84,1.2)(0.855,0.6)(0.87,1.1)(0.885,0.5)(0.9,1.0)(0.915,0.4)(0.93,0.9)(0.945,0.3)(0.96,0.9)(0.975,0.2)(0.99,0.8)(1.005,0.2)(1.02,0.7)(1.035,0.1)(1.05,0.7)(1.065,0.0)(1.08,0.6)(1.095,0.1)(1.11,0.5)(1.125,-0.2)(1.14,0.6)(1.155,0.0)(1.17,0.7)(1.185,-0.1)(1.2,0.5)(1.215,-0.3)(1.23,0.6)(1.245,0.0)(1.26,0.8)(1.275,-0.2)(1.29,0.5)(1.305,-0.4)(1.32,0.4)(1.335,-0.1)(1.35,0.6)(1.365,-0.5)(1.38,0.3)(1.395,-0.2)(1.41,0.5)(1.425,-0.6)(1.44,0.2)(1.455,-0.3)(1.47,0.4)(1.485,-0.5)(1.5,0.1)};
\addplot[kogreen, line width=0.6pt] coordinates {(-0.21,-0.3)(-0.195,0.8)(-0.18,-0.5)(-0.165,0.4)(-0.15,-0.8)(-0.135,0.6)(-0.12,-0.4)(-0.105,0.7)(-0.09,-0.2)(-0.075,0.5)(-0.06,-0.6)(-0.045,0.3)(-0.03,-0.5)(-0.015,0.6)(0.0,-0.3)(0.015,0.5)(0.03,-0.1)(0.045,0.8)(0.06,0.2)(0.075,1.3)(0.09,0.6)(0.105,1.6)(0.12,0.7)(0.135,1.5)(0.15,0.5)(0.165,1.4)(0.18,0.4)(0.195,1.3)(0.21,0.2)(0.225,1.2)(0.24,0.3)(0.255,1.1)(0.27,0.0)(0.285,1.0)(0.3,0.1)(0.315,0.9)(0.33,-0.2)(0.345,0.8)(0.36,-0.1)(0.375,0.9)(0.39,-0.3)(0.405,0.7)(0.42,-0.2)(0.435,0.8)(0.45,-0.4)(0.465,0.6)(0.48,-0.2)(0.495,0.7)(0.51,-0.5)(0.525,0.5)(0.54,-0.3)(0.555,0.8)(0.57,-0.4)(0.585,0.6)(0.6,-0.5)(0.615,0.7)(0.63,-0.2)(0.645,0.5)(0.66,-0.6)(0.675,0.6)(0.69,-0.3)(0.705,0.8)(0.72,-0.4)(0.735,0.5)(0.75,-0.2)(0.765,0.7)(0.78,-0.5)(0.795,0.6)(0.81,-0.3)(0.825,0.9)(0.84,-0.4)(0.855,0.5)(0.87,-0.6)(0.885,0.7)(0.9,-0.2)(0.915,0.6)(0.93,-0.5)(0.945,0.8)(0.96,-0.3)(0.975,0.5)(0.99,-0.6)(1.005,0.7)(1.02,-0.2)(1.035,0.6)(1.05,-0.4)(1.065,0.9)(1.08,-0.3)(1.095,0.5)(1.11,-0.5)(1.125,0.7)(1.14,-0.2)(1.155,0.6)(1.17,-0.6)(1.185,0.8)(1.2,-0.3)(1.215,0.5)(1.23,-0.4)(1.245,0.6)(1.26,-0.2)(1.275,0.8)(1.29,-0.5)(1.305,0.4)(1.32,-0.3)(1.335,0.7)(1.35,-0.4)(1.365,0.5)(1.38,-0.6)(1.395,0.6)(1.41,-0.2)(1.425,0.5)(1.44,-0.4)(1.455,0.6)(1.47,-0.3)(1.485,0.4)(1.5,-0.2)};
\end{axis}
% ================= texts =================
\node[font=\bfseries\fs{21}] at (10pt,939pt) {A};
\node[font=\fs{21}] at (148pt,937pt) {WT};
\node[font=\fs{17}] at (218pt,655pt) {Time (s)};
\node[rotate=90, font=\fs{18}] at (14pt,833pt) {Response (µV)};
\node[rotate=90, font=\fs{19}] at (183pt,821pt) {Response (pA)};
\node[font=\bfseries\fs{21}] at (399pt,939pt) {B};
\node[font=\calfont\itshape\fs{24}, text=kored] at (512pt,938pt) {Nckx1\textsuperscript{-/-}};
\node[font=\fs{17}] at (597pt,643pt) {Time (s)};
\node[rotate=90, font=\fs{17}] at (587pt,843pt) {Response (pA)};
\node[font=\bfseries\fs{21}] at (9pt,617pt) {C};
\node[rotate=90, font=\fs{18}] at (11pt,506pt) {Fract. resp. (\%)};
\node[font=\fs{17}] at (207pt,351pt) {Time (s)};
\node[font=\calfont\itshape\fs{24}, text=kored] at (223pt,528pt) {Nckx1\textsuperscript{-/-}};
\node[font=\fs{21}] at (145pt,469pt) {WT};
\node[font=\bfseries\fs{21}] at (391pt,616pt) {D};
\node[rotate=90, font=\fs{17}] at (390pt,496pt) {Lg(R / R\textsubscript{max})};
\node[font=\fs{17}] at (587pt,343pt) {Q\textsubscript{F} (photons µm\textsuperscript{-2})};
\node[font=\calfont\itshape\fs{24}, text=kored] at (524pt,591pt) {Nckx1\textsuperscript{-/-}};
\node[font=\fs{22}] at (624pt,451pt) {WT};
\node[font=\bfseries\fs{21}] at (9pt,298pt) {E};
\node[font=\calfont\fs{24}, text=navy] at (214pt,298pt) {WT, 0.2\% DMSO};
\node[rotate=90, font=\fs{18}] at (18pt,181pt) {Response (µV)};
\node[font=\fs{17}] at (221pt,13pt) {Time (s)};
\node[rotate=90, font=\fs{23}] at (191pt,201pt) {Fract. resp.};
\draw[black, line width=1.3pt] (289pt,245pt) -- (305pt,245pt);
\node[anchor=west, inner sep=1pt, font=\bfseries\fs{14}] at (305pt,245pt) {WT};
\draw[wtblue, line width=1.3pt] (289pt,225pt) -- (305pt,225pt);
\node[anchor=west, inner sep=1pt, font=\bfseries\fs{14}] at (305pt,225pt) {WT, Blocker};
\node[font=\bfseries\fs{21}] at (398pt,298pt) {F};
\node[font=\calfont\fs{24}, text=navy] at (612pt,302pt) {WT, 0.1 mM KB-R7943};
\node[font=\fs{17}] at (592pt,16pt) {Time (s)};
\draw[kored, line width=1pt] (630pt,270pt) -- (655pt,270pt);
\node[anchor=west, inner sep=1pt, font=\bfseries\fs{14}] at (655pt,270pt) {KO};
\draw[kogreen, line width=1pt] (630pt,252pt) -- (655pt,252pt);
\node[anchor=west, inner sep=1pt, font=\bfseries\fs{14}] at (655pt,252pt) {KO, Blocker};
\end{tikzpicture}
\end{document}
